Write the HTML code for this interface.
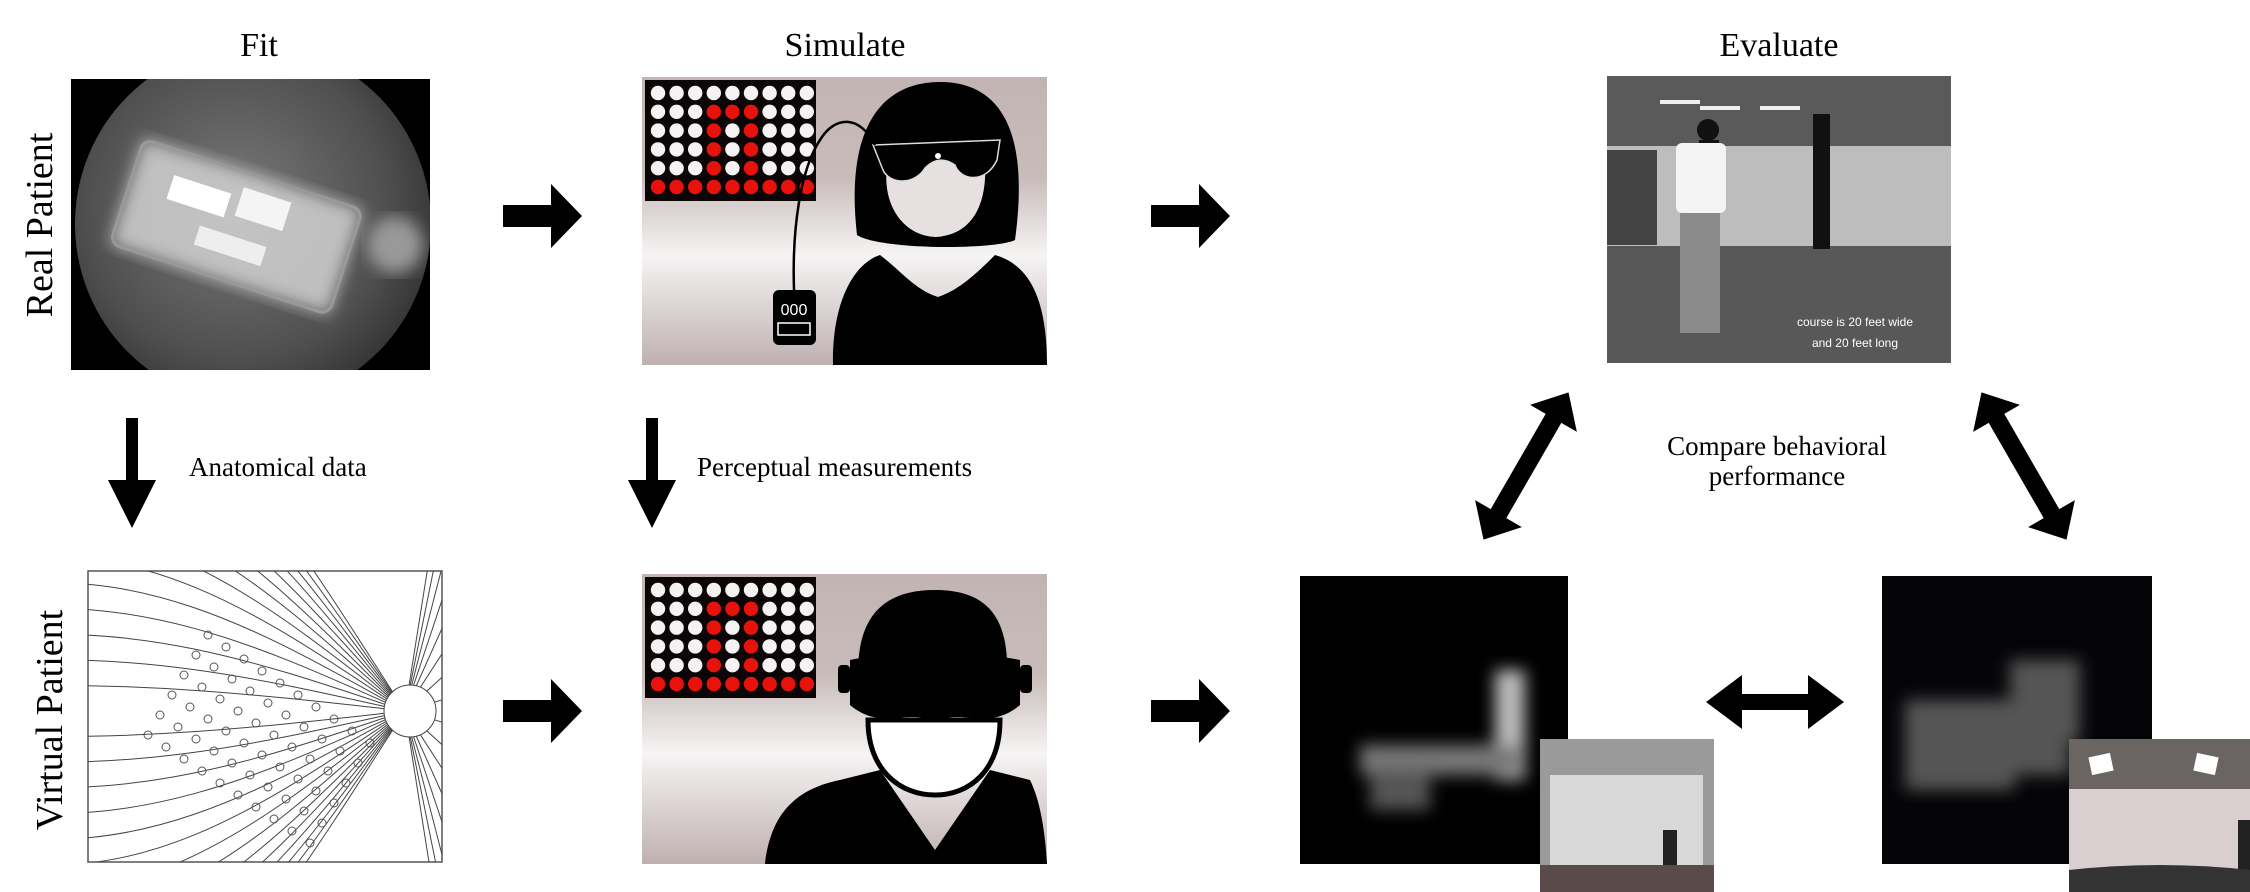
<!DOCTYPE html>
<html><head><meta charset="utf-8"><style>
html,body{margin:0;padding:0;background:#fff;overflow:hidden;width:2250px;height:892px;}
svg{display:block;}
text{font-family:"Liberation Serif",serif;fill:#000;}
</style></head><body>
<svg width="2250" height="892" viewBox="0 0 2250 892" xmlns="http://www.w3.org/2000/svg">
<defs>
<linearGradient id="bg" x1="0" y1="0" x2="0" y2="1">
<stop offset="0" stop-color="#c2b4b3"/><stop offset="0.35" stop-color="#c8bcbb"/><stop offset="0.62" stop-color="#f6f4f4"/><stop offset="1" stop-color="#bfb0b0"/>
</linearGradient>
<radialGradient id="fundus" cx="0.45" cy="0.45" r="0.6">
<stop offset="0" stop-color="#7a7a7a"/><stop offset="0.7" stop-color="#4e4e4e"/><stop offset="1" stop-color="#2e2e2e"/>
</radialGradient>
<filter id="blur"><feGaussianBlur stdDeviation="8"/></filter>
<clipPath id="fc"><ellipse cx="253" cy="224" rx="178" ry="180"/></clipPath>
<clipPath id="fr"><rect x="71" y="79" width="359" height="291"/></clipPath>
<clipPath id="ac"><rect x="88" y="571" width="354" height="291"/></clipPath>
</defs>

<text x="259" y="56" font-size="34" text-anchor="middle">Fit</text>
<text x="845" y="56" font-size="34" text-anchor="middle">Simulate</text>
<text x="1779" y="56" font-size="34" text-anchor="middle">Evaluate</text>

<text transform="translate(52,225) rotate(-90)" font-size="38" text-anchor="middle">Real Patient</text>
<text transform="translate(62,720) rotate(-90)" font-size="38" text-anchor="middle">Virtual Patient</text>

<g>
<rect x="71" y="79" width="359" height="291" fill="#000"/>
<g clip-path="url(#fr)">
<g clip-path="url(#fc)">
<rect x="71" y="40" width="367" height="370" fill="url(#fundus)"/>
<g transform="rotate(18 230 230)" filter="url(#blur)">
<rect x="120" y="170" width="230" height="110" fill="#d0d0d0" opacity="0.85"/>
</g>
<g transform="rotate(18 230 230)">
<rect x="120" y="170" width="230" height="110" rx="10" fill="none" stroke="#999" stroke-width="3"/>
<rect x="160" y="195" width="60" height="25" fill="#fff"/><rect x="230" y="185" width="50" height="30" fill="#f4f4f4"/><rect x="200" y="235" width="70" height="20" fill="#eee"/>
</g>
<circle cx="395" cy="245" r="28" fill="#999" filter="url(#blur)"/>
</g>
</g>
</g>

<g>
<rect x="642" y="77" width="405" height="288" fill="url(#bg)"/>
<rect x="645" y="80" width="171" height="121" fill="#0b0505"/>
<g id="dots1"></g>
<path d="M857,235 C845,130 880,82 940,82 C1000,82 1030,130 1015,240 C995,250 880,250 857,235Z" fill="#000"/>
<path d="M888,160 C880,200 900,235 935,237 C975,235 990,200 984,150 C960,140 910,140 888,160Z" fill="#e6e0e0"/>
<path d="M873,145 L1000,140 L997,160 C985,185 960,180 955,165 C945,158 935,158 925,168 C915,185 890,185 883,170Z" fill="#000" stroke="#ddd" stroke-width="1.5"/>
<circle cx="938" cy="156" r="3" fill="#fff"/>
<path d="M833,365 C832,300 855,263 880,255 C900,270 915,290 938,297 C960,290 980,270 995,255 C1030,265 1047,300 1047,365Z" fill="#000"/>
<path d="M875,145 C860,115 835,115 820,140 C800,170 792,230 794,290" fill="none" stroke="#000" stroke-width="2.5"/>
<rect x="773" y="290" width="43" height="55" rx="6" fill="#000"/>
<text x="794" y="315" font-size="16" text-anchor="middle" style="fill:#fff;font-family:'Liberation Sans',sans-serif">000</text>
<rect x="778" y="323" width="32" height="12" fill="none" stroke="#fff" stroke-width="1.5"/>
</g>

<g fill="#000">
<path d="M503,205 L551,205 L551,184 L582,216 L551,248 L551,227 L503,227Z"/>
<path d="M1151,205 L1199,205 L1199,184 L1230,216 L1199,248 L1199,227 L1151,227Z"/>
<path d="M503,700 L551,700 L551,679 L582,711 L551,743 L551,722 L503,722Z"/>
<path d="M1151,700 L1199,700 L1199,679 L1230,711 L1199,743 L1199,722 L1151,722Z"/>
</g>

<g fill="#000">
<path d="M126,418 L138,418 L138,480 L156,480 L132,528 L108,480 L126,480Z"/>
<path d="M646,418 L658,418 L658,480 L676,480 L652,528 L628,480 L646,480Z"/>
</g>
<text x="189" y="476" font-size="27">Anatomical data</text>
<text x="697" y="476" font-size="27">Perceptual measurements</text>

<g>
<rect x="88" y="571" width="354" height="291" fill="#fff" stroke="#555" stroke-width="1.5"/>
<g id="axons" clip-path="url(#ac)" fill="none" stroke="#444" stroke-width="1"></g>
<g id="elecs" fill="none" stroke="#555" stroke-width="1"></g>
</g>

<g>
<rect x="642" y="574" width="405" height="290" fill="url(#bg)"/>
<rect x="645" y="577" width="171" height="121" fill="#0b0505"/>
<g id="dots2"></g>
<path d="M860,700 C850,620 880,590 935,590 C990,590 1015,620 1005,700Z" fill="#000"/>
<path d="M868,720 C868,770 900,795 935,795 C970,795 1000,770 1000,720Z" fill="#fff" stroke="#000" stroke-width="5"/>
<path d="M850,660 C900,650 970,650 1020,660 L1020,705 C990,730 970,710 935,720 C900,710 880,730 850,705Z" fill="#000"/>
<rect x="838" y="665" width="12" height="28" rx="4" fill="#000"/><rect x="1020" y="665" width="12" height="28" rx="4" fill="#000"/>
<path d="M765,864 C770,820 790,790 840,780 L880,770 L935,850 L990,770 L1030,780 C1040,800 1045,830 1047,864Z" fill="#000"/>
</g>

<g>
<rect x="1607" y="76" width="344" height="70" fill="#5a5a5a"/>
<rect x="1607" y="146" width="344" height="100" fill="#bdbdbd"/>
<rect x="1607" y="246" width="344" height="117" fill="#585858"/>
<rect x="1660" y="100" width="40" height="4" fill="#eee"/><rect x="1700" y="106" width="40" height="4" fill="#eee"/><rect x="1760" y="106" width="40" height="4" fill="#eee"/>
<rect x="1813" y="114" width="17" height="135" fill="#111"/>
<rect x="1607" y="150" width="50" height="95" fill="#444"/>
<circle cx="1708" cy="130" r="11" fill="#111"/>
<rect x="1699" y="140" width="20" height="23" fill="#111"/>
<rect x="1676" y="143" width="50" height="70" rx="6" fill="#f4f4f4"/>
<rect x="1680" y="213" width="40" height="120" fill="#8a8a8a"/>
<text x="1855" y="326" font-size="12" text-anchor="middle" style="fill:#fff;font-family:'Liberation Sans',sans-serif">course is 20 feet wide</text>
<text x="1855" y="347" font-size="12" text-anchor="middle" style="fill:#fff;font-family:'Liberation Sans',sans-serif">and 20 feet long</text>
</g>

<text x="1777" y="455" font-size="27" text-anchor="middle">Compare behavioral</text>
<text x="1777" y="485" font-size="27" text-anchor="middle">performance</text>

<g fill="#000">
<g transform="translate(1526,466) rotate(-60)">
<path d="M-85,0 L-55,-27 L-55,-9 L55,-9 L55,-27 L85,0 L55,27 L55,9 L-55,9 L-55,27Z"/>
</g>
<g transform="translate(2024,466) rotate(60)">
<path d="M-85,0 L-55,-27 L-55,-9 L55,-9 L55,-27 L85,0 L55,27 L55,9 L-55,9 L-55,27Z"/>
</g>
<path d="M1706,702 L1742,675 L1742,694 L1808,694 L1808,675 L1844,702 L1808,729 L1808,710 L1742,710 L1742,729Z"/>
</g>

<g>
<rect x="1300" y="576" width="268" height="288" fill="#000"/>
<g filter="url(#blur)">
<rect x="1495" y="670" width="30" height="110" fill="#bbb"/>
<rect x="1360" y="745" width="160" height="30" fill="#777"/>
<rect x="1370" y="770" width="60" height="40" fill="#555"/>
</g>
</g>
<g>
<rect x="1540" y="739" width="174" height="153" fill="#9a9a9a"/>
<rect x="1550" y="775" width="153" height="90" fill="#d8d8d8"/>
<rect x="1540" y="865" width="174" height="27" fill="#5a4a4a"/>
<rect x="1663" y="830" width="14" height="35" fill="#222"/>
</g>

<g>
<rect x="1882" y="576" width="270" height="288" fill="#050508"/>
<g filter="url(#blur)" fill="#555">
<rect x="1905" y="700" width="110" height="90"/>
<rect x="2010" y="660" width="70" height="80"/>
<rect x="1990" y="730" width="80" height="45"/>
</g>
</g>
<g>
<rect x="2069" y="739" width="181" height="153" fill="#d9cfd1"/>
<rect x="2069" y="739" width="181" height="50" fill="#6a6462"/>
<rect x="2090" y="755" width="22" height="18" fill="#fff" transform="rotate(-12 2101 764)"/>
<rect x="2195" y="755" width="22" height="18" fill="#fff" transform="rotate(12 2206 764)"/>
<rect x="2238" y="820" width="12" height="50" fill="#222"/>
<path d="M2069,870 Q2160,860 2250,870 L2250,892 L2069,892Z" fill="#333"/>
</g>
</svg>
<script>
const gridRows = 6, gridCols = 9;
const redCells = [[1,3],[1,4],[1,5],[2,3],[2,5],[3,3],[3,5],[4,3],[4,5],[5,0],[5,1],[5,2],[5,3],[5,4],[5,5],[5,6],[5,7],[5,8]];
const NS="http://www.w3.org/2000/svg";
function drawDots(id, ox, oy){
  const g=document.getElementById(id);
  for(let r=0;r<gridRows;r++)for(let c=0;c<gridCols;c++){
    const red=redCells.some(p=>p[0]===r&&p[1]===c);
    const e=document.createElementNS(NS,'circle');
    e.setAttribute('cx',ox+c*18.6);e.setAttribute('cy',oy+r*18.8);e.setAttribute('r',7.2);
    e.setAttribute('fill',red?'#e8120c':'#f4f2f2');
    
    
    g.appendChild(e);
  }
}
drawDots('dots1',658,93);
drawDots('dots2',658,590);
const ax=document.getElementById('axons');
const cx=405, cy=711;
for(let i=-14;i<=14;i++){
  if(i===0)continue;
  const p=document.createElementNS(NS,'path');
  const s=i*22;
  p.setAttribute('d',`M${cx},${cy} C${cx-120},${cy+s*0.6} ${cx-260},${cy+s*1.4} ${cx-420},${cy+s*1.1}`);
  ax.appendChild(p);
}
for(let i=0;i<16;i++){
  const p=document.createElementNS(NS,'path');
  const a=-0.9+i*0.12;
  p.setAttribute('d',`M${cx},${cy} L${cx+60*Math.cos(a)},${cy+300*Math.sin(a)}`);
  ax.appendChild(p);
}
const disc=document.createElementNS(NS,'circle');
disc.setAttribute('cx',cx+5);disc.setAttribute('cy',cy);disc.setAttribute('r',26);disc.setAttribute('fill','#fff');


ax.appendChild(disc);
const el=document.getElementById('elecs');
for(let r=0;r<6;r++)for(let c=0;c<10;c++){
  const e=document.createElementNS(NS,'circle');
  const x=148+c*18+r*12, y=735-r*20+c*12;
  e.setAttribute('cx',x);e.setAttribute('cy',y);e.setAttribute('r',4);
  
  
  el.appendChild(e);
}
</script>
</body></html>
